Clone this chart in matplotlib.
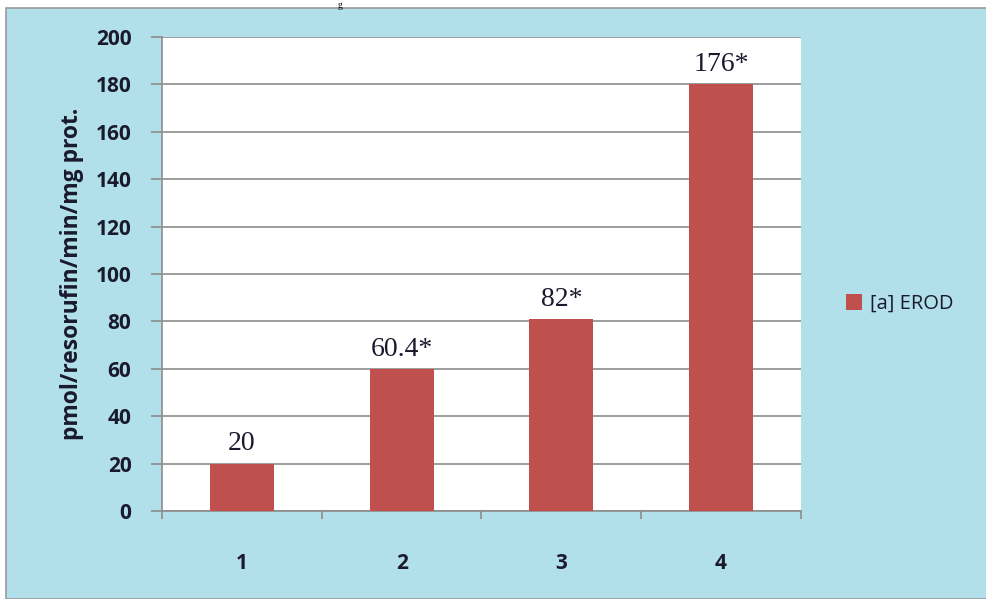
import numpy as np
import matplotlib.pyplot as plt
from matplotlib.patches import Rectangle

# data
groups = ['1', '2', '3', '4']
erod = [20, 60, 81, 180]
bar_labels = ['20', '60.4*', '82*', '176*']
yticks = [0, 20, 40, 60, 80, 100, 120, 140, 160, 180, 200]

W, H = 987, 599
fig = plt.figure(figsize=(W / 100, H / 100), dpi=100)
fig.patch.set_facecolor('white')

# blue chart area background
bg = Rectangle((6 / W, 0), 1 - 6 / W, 1 - 8 / H, transform=fig.transFigure,
               facecolor='#b2e0ea', edgecolor='#9a9a9a', lw=1.2, zorder=-10)
fig.add_artist(bg)

# cut off title
fig.text(338 / W, 1 - 1 / H, 'g', fontsize=7, family='Liberation Serif',
         ha='left', va='top')

ax = fig.add_axes([162 / W, 1 - 511 / H, (801 - 162) / W, (511 - 37) / H])
ax.set_facecolor('white')

txt = '#1a1a2e'
x = np.arange(len(groups))
bars = ax.bar(x, erod, width=0.4, color='#c0504d', zorder=3, label='[a] EROD')
for b, lab in zip(bars, bar_labels):
    ax.text(b.get_x() + b.get_width() / 2, b.get_height() + 3, lab,
            ha='center', va='bottom', fontsize=20, family='Liberation Serif',
            color=txt)

ax.set_xlim(-0.5, 3.5)
ax.set_ylim(0, 200)
ax.set_yticks(yticks)
ax.set_yticklabels([str(t) for t in yticks], fontsize=15, fontweight='bold',
                   family='Open Sans', color=txt)
ax.set_xticks(x)
ax.set_xticklabels(groups, fontsize=15, fontweight='bold', family='Open Sans',
                   color=txt)
ax.set_xticks([-0.5, 0.5, 1.5, 2.5, 3.5], minor=True)
ax.tick_params(axis='x', which='major', length=0, pad=30)
ax.tick_params(axis='x', which='minor', length=6, color='#8c8c8c', width=1.2)
ax.tick_params(axis='y', length=8, color='#8c8c8c', width=1.2, pad=14)
ax.yaxis.grid(True, color='#8c8c8c', lw=1.2, zorder=0)
ax.set_axisbelow(True)
for s in ['top', 'right']:
    ax.spines[s].set_visible(False)
for s in ['left', 'bottom']:
    ax.spines[s].set_color('#8c8c8c')
    ax.spines[s].set_linewidth(1.2)

ax.set_ylabel('pmol/resorufin/min/mg prot.', fontsize=16.5, fontweight='bold',
              family='Open Sans', labelpad=8, color=txt)

leg = fig.legend(handles=[bars], labels=['[a] EROD'], loc='center left',
                 bbox_to_anchor=(828 / W, 1 - 304 / H), frameon=False,
                 prop={'family': 'Open Sans', 'size': 14.5},
                 handlelength=0.8, handleheight=0.8, handletextpad=0.4)
for t in leg.get_texts():
    t.set_color(txt)

fig.savefig('out.png', dpi=100)
